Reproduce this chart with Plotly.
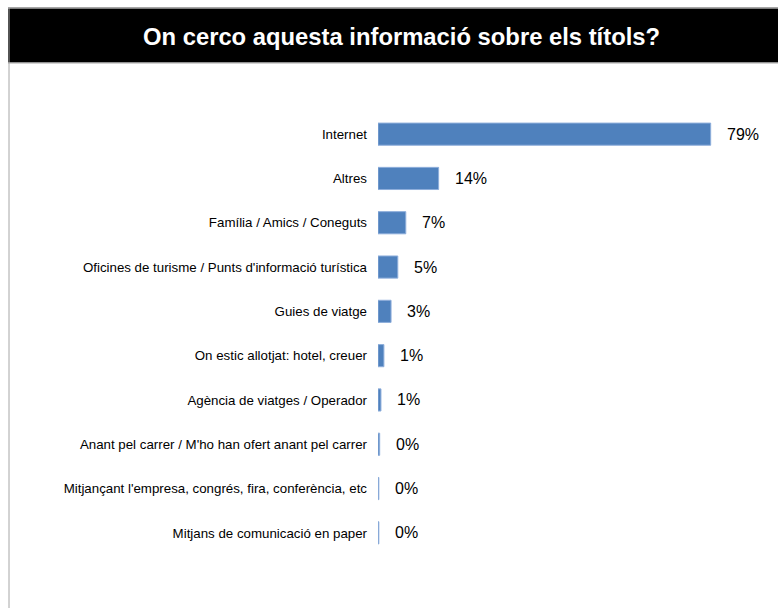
import plotly.graph_objects as go

# Survey answers: where respondents look for information about the degrees
categories = [
    "Internet",
    "Altres",
    "Família / Amics / Coneguts",
    "Oficines de turisme / Punts d'informació turística",
    "Guies de viatge",
    "On estic allotjat: hotel, creuer",
    "Agència de viatges / Operador",
    "Anant pel carrer / M'ho han ofert anant pel carrer",
    "Mitjançant l'empresa, congrés, fira, conferència, etc",
    "Mitjans de comunicació en paper",
]
shares = [79.0, 14.4, 6.6, 4.7, 3.1, 1.4, 0.7, 0.4, 0.2, 0.2]

title_text = "On cerco aquesta informació sobre els títols?"

W, H = 778, 608
L, R, T, B = 378, 21, 112, 53
pw, ph = W - L - R, H - T - B


def px(x):
    return (x - L) / pw


def py(y):
    return (H - B - y) / ph


FONT = "Liberation Sans, Arial, sans-serif"

fig = go.Figure(
    go.Bar(
        x=shares,
        y=categories,
        orientation="h",
        width=0.5,
        marker=dict(color="#4F81BD", line=dict(color="#8EAEDB", width=1)),
        hoverinfo="skip",
    )
)

# value labels placed to the right of each bar
for cat, v in zip(categories, shares):
    fig.add_annotation(
        x=v, y=cat, xref="x", yref="y",
        text=f"{v:.0f}%", showarrow=False,
        xanchor="left", xshift=14,
        font=dict(family=FONT, size=16, color="#000000"),
    )

# black title band and frame lines
fig.add_shape(type="rect", xref="paper", yref="paper",
              x0=px(8), x1=px(778), y0=py(62.5), y1=py(8.5),
              fillcolor="#000000", line=dict(width=0), layer="below")
fig.add_shape(type="line", xref="paper", yref="paper",
              x0=px(8), x1=px(778), y0=py(7.5), y1=py(7.5),
              line=dict(color="#A6A6A6", width=1))
fig.add_shape(type="line", xref="paper", yref="paper",
              x0=px(8), x1=px(778), y0=py(63), y1=py(63),
              line=dict(color="#A6A6A6", width=1))
fig.add_shape(type="line", xref="paper", yref="paper",
              x0=px(9), x1=px(9), y0=py(7.5), y1=py(608),
              line=dict(color="#A6A6A6", width=1))

fig.add_annotation(
    x=px(401), y=py(36), xref="paper", yref="paper",
    text=f"<b>{title_text}</b>", showarrow=False,
    xanchor="center", yanchor="middle",
    font=dict(family=FONT, size=23.8, color="#FFFFFF"),
)

fig.update_layout(
    width=W, height=H,
    margin=dict(l=L, r=R, t=T, b=B, pad=0),
    paper_bgcolor="#FFFFFF",
    plot_bgcolor="#FFFFFF",
    showlegend=False,
    xaxis=dict(range=[0, 90], visible=False, fixedrange=True),
    yaxis=dict(
        autorange="reversed",
        showgrid=False, zeroline=False, showline=False,
        ticks="", ticklabelstandoff=10,
        tickfont=dict(family=FONT, size=13.3, color="#000000"),
        fixedrange=True,
    ),
)

fig.write_html("out.html")
